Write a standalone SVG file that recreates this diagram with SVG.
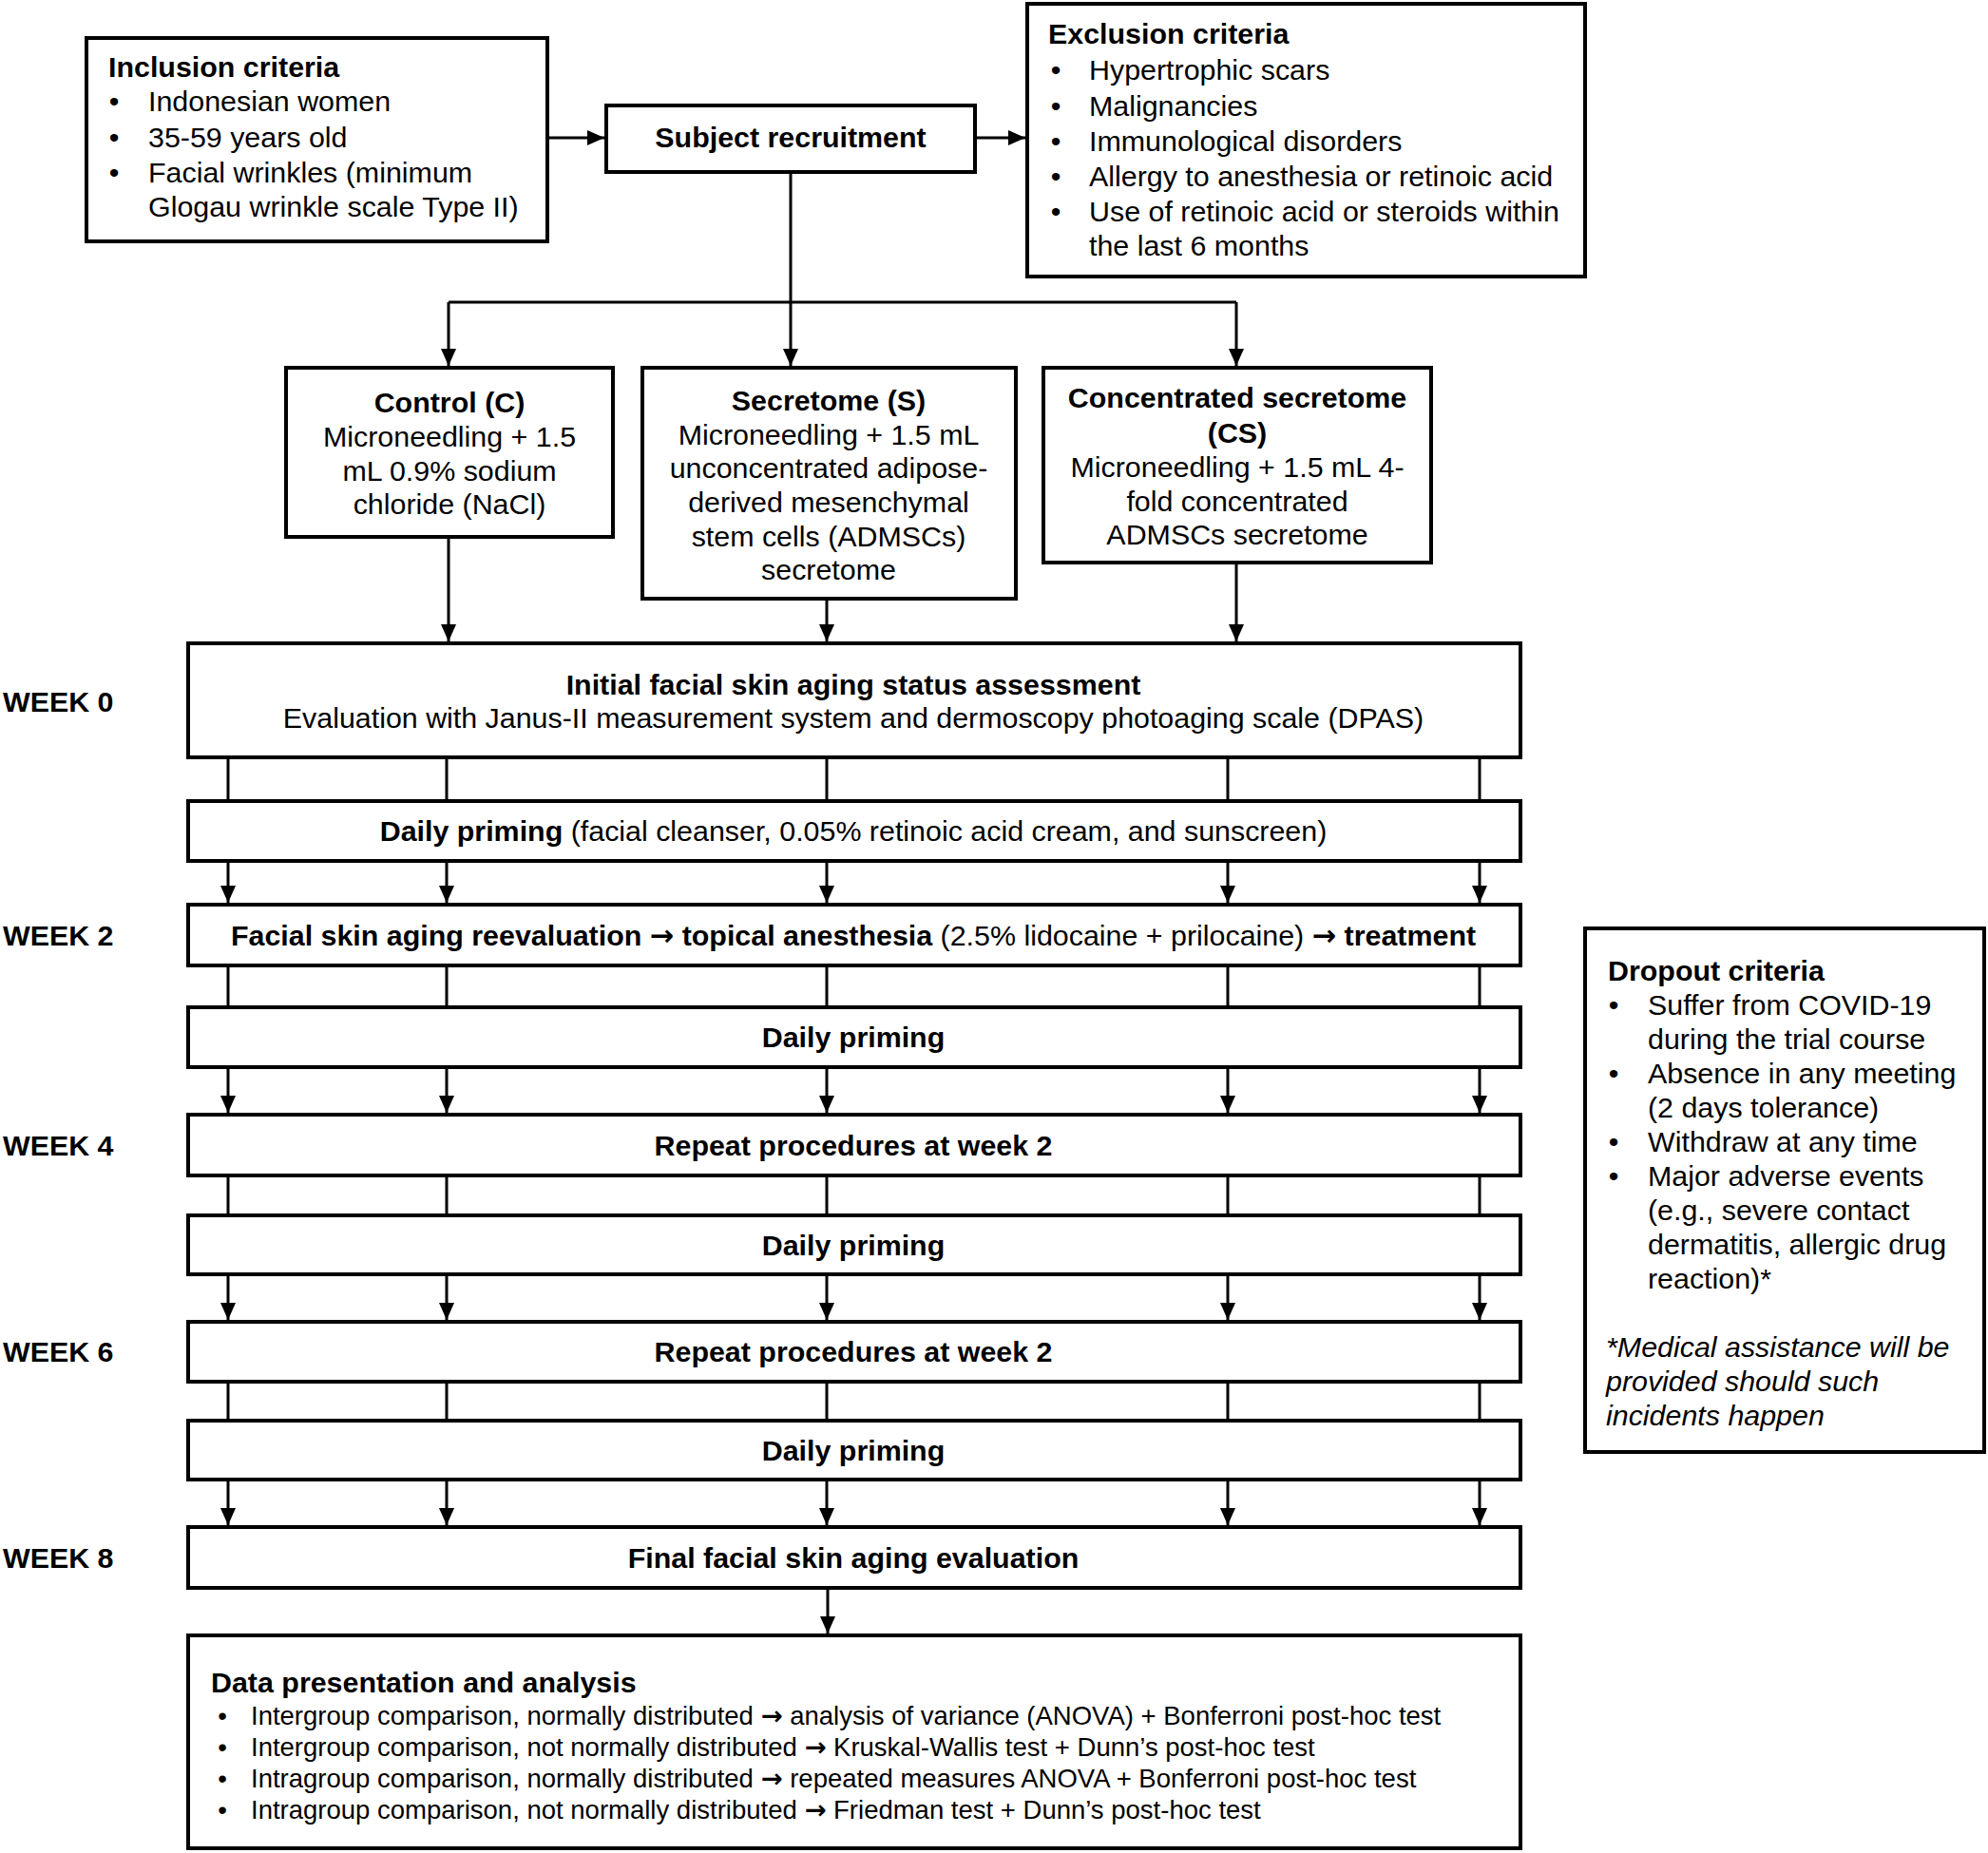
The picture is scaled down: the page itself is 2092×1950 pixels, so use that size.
<svg xmlns="http://www.w3.org/2000/svg" width="2092" height="1950" viewBox="0 0 2092 1950">
<defs>
<marker id="ah" markerUnits="userSpaceOnUse" markerWidth="18" markerHeight="16" refX="18" refY="8" orient="auto">
<path d="M0,0 L18,8 L0,16 z" fill="#000"/>
</marker>
<style>
text{font-family:"Liberation Sans",Arial,sans-serif;font-size:30.4px;fill:#000}
.b{font-weight:bold}
.i{font-style:italic}
.c{text-anchor:middle}
.s{font-size:27.5px}
.arw{font-family:"DejaVu Sans",sans-serif;font-weight:bold}
.box{fill:#fff;stroke:#000;stroke-width:4}
.ln{fill:none;stroke:#000;stroke-width:3}
.ar{fill:none;stroke:#000;stroke-width:3;marker-end:url(#ah)}
</style>
</defs>
<rect width="2092" height="1950" fill="#fff"/>

<g id="connectors">
<path class="ar" d="M578,145 L636,145"/>
<path class="ar" d="M1028,145 L1079,145"/>
<path class="ln" d="M832,183 L832,318"/>
<path class="ln" d="M472,318 L1301,318"/>
<path class="ar" d="M472,318 L472,385"/>
<path class="ar" d="M832,318 L832,385"/>
<path class="ar" d="M1301,318 L1301,385"/>
<path class="ar" d="M472,567 L472,675"/>
<path class="ar" d="M870,632 L870,675"/>
<path class="ar" d="M1301,594 L1301,675"/>
<path class="ln" d="M240,799 V841 M470,799 V841 M870,799 V841 M1292,799 V841 M1557,799 V841"/>
<path class="ar" d="M240,908 V950"/><path class="ar" d="M470,908 V950"/><path class="ar" d="M870,908 V950"/><path class="ar" d="M1292,908 V950"/><path class="ar" d="M1557,908 V950"/>
<path class="ln" d="M240,1018 V1058 M470,1018 V1058 M870,1018 V1058 M1292,1018 V1058 M1557,1018 V1058"/>
<path class="ar" d="M240,1125 V1171"/><path class="ar" d="M470,1125 V1171"/><path class="ar" d="M870,1125 V1171"/><path class="ar" d="M1292,1125 V1171"/><path class="ar" d="M1557,1125 V1171"/>
<path class="ln" d="M240,1239 V1277 M470,1239 V1277 M870,1239 V1277 M1292,1239 V1277 M1557,1239 V1277"/>
<path class="ar" d="M240,1343 V1389"/><path class="ar" d="M470,1343 V1389"/><path class="ar" d="M870,1343 V1389"/><path class="ar" d="M1292,1343 V1389"/><path class="ar" d="M1557,1343 V1389"/>
<path class="ln" d="M240,1456 V1493 M470,1456 V1493 M870,1456 V1493 M1292,1456 V1493 M1557,1456 V1493"/>
<path class="ar" d="M240,1559 V1605"/><path class="ar" d="M470,1559 V1605"/><path class="ar" d="M870,1559 V1605"/><path class="ar" d="M1292,1559 V1605"/><path class="ar" d="M1557,1559 V1605"/>
<path class="ar" d="M871,1673 V1719"/>
</g>

<g id="inclusion">
<rect class="box" x="91" y="40" width="485" height="214"/>
<text class="b" x="114" y="81">Inclusion criteria</text>
<text class="c" x="120" y="117">•</text><text x="156" y="117">Indonesian women</text>
<text class="c" x="120" y="155">•</text><text x="156" y="155">35-59 years old</text>
<text class="c" x="120" y="192">•</text><text x="156" y="192">Facial wrinkles (minimum</text>
<text x="156" y="228">Glogau wrinkle scale Type II)</text>
</g>

<g id="recruitment">
<rect class="box" x="638" y="111" width="388" height="70"/>
<text class="b c" x="832" y="155">Subject recruitment</text>
</g>

<g id="exclusion">
<rect class="box" x="1081" y="4" width="587" height="287"/>
<text class="b" x="1103" y="46">Exclusion criteria</text>
<text class="c" x="1111" y="84">•</text><text x="1146" y="84">Hypertrophic scars</text>
<text class="c" x="1111" y="122">•</text><text x="1146" y="122">Malignancies</text>
<text class="c" x="1111" y="159">•</text><text x="1146" y="159">Immunological disorders</text>
<text class="c" x="1111" y="196">•</text><text x="1146" y="196">Allergy to anesthesia or retinoic acid</text>
<text class="c" x="1111" y="233">•</text><text x="1146" y="233">Use of retinoic acid or steroids within</text>
<text x="1146" y="269">the last 6 months</text>
</g>

<g id="control">
<rect class="box" x="301" y="387" width="344" height="178"/>
<text class="b c" x="473" y="434">Control (C)</text>
<text class="c" x="473" y="470">Microneedling + 1.5</text>
<text class="c" x="473" y="506">mL 0.9% sodium</text>
<text class="c" x="473" y="541">chloride (NaCl)</text>
</g>

<g id="secretome">
<rect class="box" x="676" y="387" width="393" height="243"/>
<text class="b c" x="872" y="432">Secretome (S)</text>
<text class="c" x="872" y="468">Microneedling + 1.5 mL</text>
<text class="c" x="872" y="503">unconcentrated adipose-</text>
<text class="c" x="872" y="539">derived mesenchymal</text>
<text class="c" x="872" y="575">stem cells (ADMSCs)</text>
<text class="c" x="872" y="610">secretome</text>
</g>

<g id="concentrated">
<rect class="box" x="1098" y="387" width="408" height="205"/>
<text class="b c" x="1302" y="429">Concentrated secretome</text>
<text class="b c" x="1302" y="466">(CS)</text>
<text class="c" x="1302" y="502">Microneedling + 1.5 mL 4-</text>
<text class="c" x="1302" y="538">fold concentrated</text>
<text class="c" x="1302" y="573">ADMSCs secretome</text>
</g>

<g id="week-labels">
<text class="b" x="3" y="749">WEEK 0</text>
<text class="b" x="3" y="995">WEEK 2</text>
<text class="b" x="3" y="1216">WEEK 4</text>
<text class="b" x="3" y="1433">WEEK 6</text>
<text class="b" x="3" y="1650">WEEK 8</text>
</g>

<g id="week0">
<rect class="box" x="198" y="677" width="1402" height="120"/>
<text class="b c" x="898" y="731">Initial facial skin aging status assessment</text>
<text class="c" x="898" y="766">Evaluation with Janus-II measurement system and dermoscopy photoaging scale (DPAS)</text>
</g>

<g id="priming1">
<rect class="box" x="198" y="843" width="1402" height="63"/>
<text class="c" x="898" y="885"><tspan class="b">Daily priming</tspan> (facial cleanser, 0.05% retinoic acid cream, and sunscreen)</text>
</g>

<g id="week2">
<rect class="box" x="198" y="952" width="1402" height="64"/>
<text class="c" x="898" y="995"><tspan class="b">Facial skin aging reevaluation </tspan><tspan class="arw">→</tspan><tspan class="b"> topical anesthesia</tspan> (2.5% lidocaine + prilocaine) <tspan class="arw">→</tspan> <tspan class="b">treatment</tspan></text>
</g>

<g id="priming2">
<rect class="box" x="198" y="1060" width="1402" height="63"/>
<text class="b c" x="898" y="1102">Daily priming</text>
</g>

<g id="week4">
<rect class="box" x="198" y="1173" width="1402" height="64"/>
<text class="b c" x="898" y="1216">Repeat procedures at week 2</text>
</g>

<g id="priming3">
<rect class="box" x="198" y="1279" width="1402" height="62"/>
<text class="b c" x="898" y="1321">Daily priming</text>
</g>

<g id="week6">
<rect class="box" x="198" y="1391" width="1402" height="63"/>
<text class="b c" x="898" y="1433">Repeat procedures at week 2</text>
</g>

<g id="priming4">
<rect class="box" x="198" y="1495" width="1402" height="62"/>
<text class="b c" x="898" y="1537">Daily priming</text>
</g>

<g id="week8">
<rect class="box" x="198" y="1607" width="1402" height="64"/>
<text class="b c" x="898" y="1650">Final facial skin aging evaluation</text>
</g>

<g id="analysis">
<rect class="box" x="198" y="1721" width="1402" height="224"/>
<text class="b" x="222" y="1781">Data presentation and analysis</text>
<text class="s c" x="234" y="1815">•</text><text class="s" x="264" y="1815">Intergroup comparison, normally distributed <tspan class="arw">→</tspan> analysis of variance (ANOVA) + Bonferroni post-hoc test</text>
<text class="s c" x="234" y="1848">•</text><text class="s" x="264" y="1848">Intergroup comparison, not normally distributed <tspan class="arw">→</tspan> Kruskal-Wallis test + Dunn’s post-hoc test</text>
<text class="s c" x="234" y="1881">•</text><text class="s" x="264" y="1881">Intragroup comparison, normally distributed <tspan class="arw">→</tspan> repeated measures ANOVA + Bonferroni post-hoc test</text>
<text class="s c" x="234" y="1914">•</text><text class="s" x="264" y="1914">Intragroup comparison, not normally distributed <tspan class="arw">→</tspan> Friedman test + Dunn’s post-hoc test</text>
</g>

<g id="dropout">
<rect class="box" x="1668" y="977" width="420" height="551"/>
<text class="b" x="1692" y="1032">Dropout criteria</text>
<text class="c" x="1698" y="1068">•</text><text x="1734" y="1068">Suffer from COVID-19</text>
<text x="1734" y="1104">during the trial course</text>
<text class="c" x="1698" y="1140">•</text><text x="1734" y="1140">Absence in any meeting</text>
<text x="1734" y="1176">(2 days tolerance)</text>
<text class="c" x="1698" y="1212">•</text><text x="1734" y="1212">Withdraw at any time</text>
<text class="c" x="1698" y="1248">•</text><text x="1734" y="1248">Major adverse events</text>
<text x="1734" y="1284">(e.g., severe contact</text>
<text x="1734" y="1320">dermatitis, allergic drug</text>
<text x="1734" y="1356">reaction)*</text>
<text class="i" x="1690" y="1428">*Medical assistance will be</text>
<text class="i" x="1690" y="1464">provided should such</text>
<text class="i" x="1690" y="1500">incidents happen</text>
</g>
</svg>
